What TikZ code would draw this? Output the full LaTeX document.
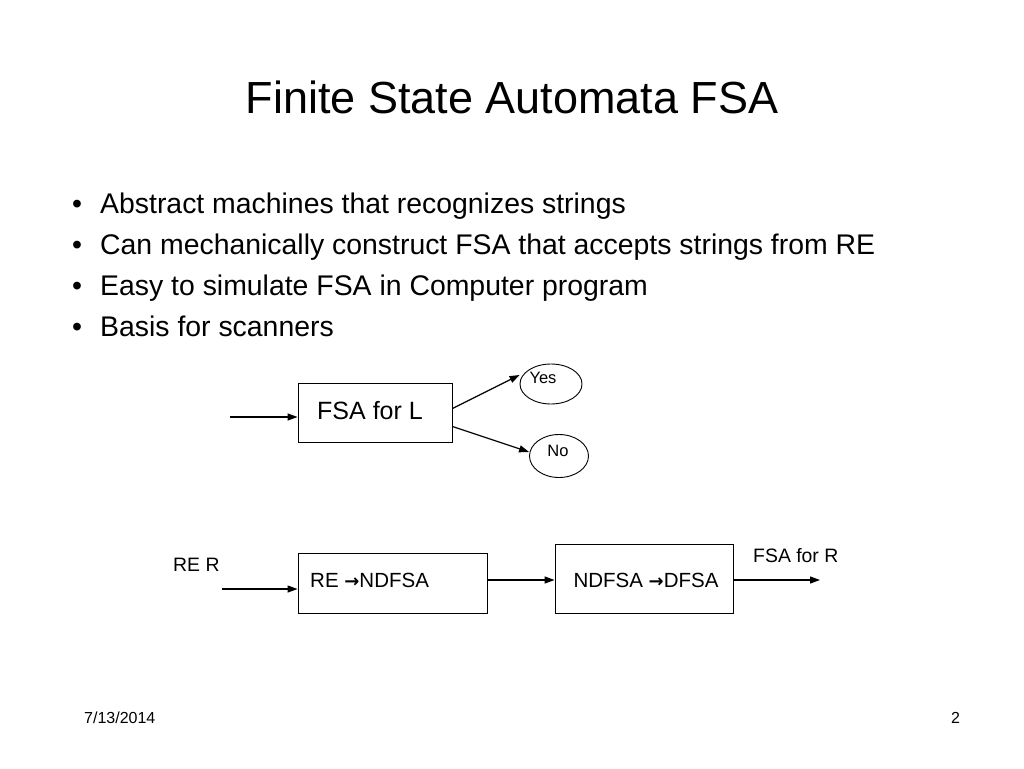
\documentclass[tikz,border=0pt]{standalone}
\usepackage{fontspec}
\setmainfont{Liberation Sans}
\newfontfamily\arrowfont{DejaVu Sans}
\usetikzlibrary{arrows.meta,shapes.geometric}
\begin{document}
\begin{tikzpicture}[x=1pt,y=-1pt,
  box/.style={draw,line width=0.9pt,inner sep=0pt},
  oval/.style={draw,ellipse,line width=0.9pt,inner sep=0pt},
  conn/.style={line width=1.2pt,-{Triangle[length=10pt,width=7pt]}},
  txt/.style={inner sep=0pt,anchor=base west},
  bul/.style={inner sep=0pt,anchor=base west,font=\fontsize{28.4}{32}\selectfont}]
\useasboundingbox[fill=white] (0,0) rectangle (1024,768);
% title
\node[inner sep=0pt,font=\fontsize{45}{54}\selectfont] (title) at (512,97) {Finite State Automata FSA};
% bullets
\node[bul] (b1d) at (72,213) {•};
\node[bul] (b1) at (100,213) {Abstract machines that recognizes strings};
\node[bul] (b2d) at (72,254) {•};
\node[bul] (b2) at (100,254) {Can mechanically construct FSA that accepts strings from RE};
\node[bul] (b3d) at (72,295) {•};
\node[bul] (b3) at (100,295) {Easy to simulate FSA in Computer program};
\node[bul] (b4d) at (72,336) {•};
\node[bul] (b4) at (100,336) {Basis for scanners};
% top diagram
\node[box,minimum width=154pt,minimum height=59pt] (fsa) at (375,412.5) {};
\node[txt,font=\fontsize{25}{28}\selectfont] (fsat) at (317,419) {FSA for L};
\node[oval,minimum width=62pt,minimum height=40pt] (yes) at (551,384) {};
\node[inner sep=0pt,font=\fontsize{16.5}{19}\selectfont] (yest) at (543,378) {Yes};
\node[oval,minimum width=59pt,minimum height=43pt] (no) at (559,456) {};
\node[inner sep=0pt,font=\fontsize{16.5}{19}\selectfont] (not) at (558,451) {No};
\coordinate (in1) at (230,417);
\draw[conn] (in1) -- (in1 -| fsa.west);
\draw[conn] ([yshift=4pt]fsa.east) -- (yes.west |- 0,375) ;
\draw[conn] ([yshift=-14pt]fsa.east) -- (no.west |- 0,452);
% bottom diagram
\node[txt,font=\fontsize{19.4}{22}\selectfont] (rer) at (173,571) {RE R};
\node[box,minimum width=189pt,minimum height=60pt] (b1box) at (392.5,583) {};
\node[txt,font=\fontsize{20.5}{24}\selectfont] (b1t) at (310,587) {RE {\arrowfont\bfseries\fontsize{18}{20}\selectfont →}NDFSA};
\node[box,minimum width=178pt,minimum height=69pt] (b2box) at (644,578.5) {};
\node[inner sep=0pt,anchor=base,font=\fontsize{20.5}{24}\selectfont] (b2t) at (646,587) {NDFSA {\arrowfont\bfseries\fontsize{18}{20}\selectfont →}DFSA};
\node[txt,font=\fontsize{19.4}{22}\selectfont] (fsar) at (753,562) {FSA for R};
\coordinate (in2) at (222,589);
\coordinate (out2) at (820,580);
\draw[conn] (in2) -- (in2 -| b1box.west);
\draw[conn] (b1box.east |- 0,580) -- (b2box.west |- 0,580);
\draw[conn] (b2box.east |- 0,580) -- (out2);
% footer
\node[txt,font=\fontsize{16}{19}\selectfont] (date) at (84,723) {7/13/2014};
\node[txt,font=\fontsize{16}{19}\selectfont] (page) at (951,723) {2};
\end{tikzpicture}
\end{document}
